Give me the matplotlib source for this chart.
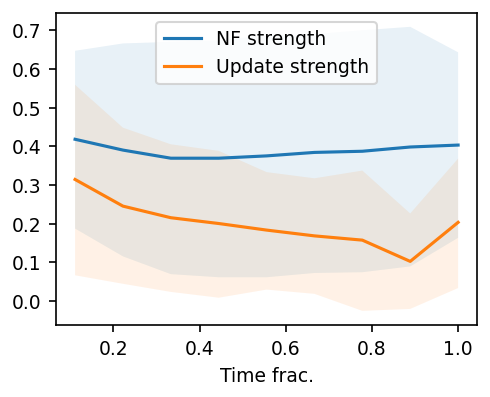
import numpy as np
import matplotlib
matplotlib.use("Agg")
import matplotlib.pyplot as plt

time_frac = [1/9, 2/9, 3/9, 4/9, 5/9, 6/9, 7/9, 8/9, 1.0]

nf_mean = [0.418, 0.390, 0.369, 0.369, 0.375, 0.384, 0.387, 0.398, 0.403]
nf_low = [0.187, 0.115, 0.069, 0.061, 0.061, 0.072, 0.074, 0.089, 0.163]
nf_high = [0.647, 0.666, 0.670, 0.674, 0.687, 0.690, 0.700, 0.709, 0.643]

upd_mean = [0.314, 0.245, 0.215, 0.200, 0.183, 0.168, 0.157, 0.102, 0.203]
upd_low = [0.066, 0.044, 0.023, 0.008, 0.029, 0.018, -0.026, -0.021, 0.033]
upd_high = [0.559, 0.448, 0.405, 0.388, 0.333, 0.317, 0.337, 0.226, 0.368]

plt.rcParams["font.size"] = 9

fig, ax = plt.subplots(figsize=(3.27, 2.65), dpi=150)
fig.subplots_adjust(left=0.114, right=0.973, bottom=0.181, top=0.967)

ax.plot(time_frac, nf_mean, label="NF strength")
ax.fill_between(time_frac, nf_low, nf_high, alpha=0.1)
ax.plot(time_frac, upd_mean, label="Update strength")
ax.fill_between(time_frac, upd_low, upd_high, alpha=0.1)

ax.set_yticks(np.arange(0, 0.75, 0.1))
ax.set_xlabel("Time frac.")
ax.legend(loc="upper center")

fig.savefig("out.png", dpi=150)
